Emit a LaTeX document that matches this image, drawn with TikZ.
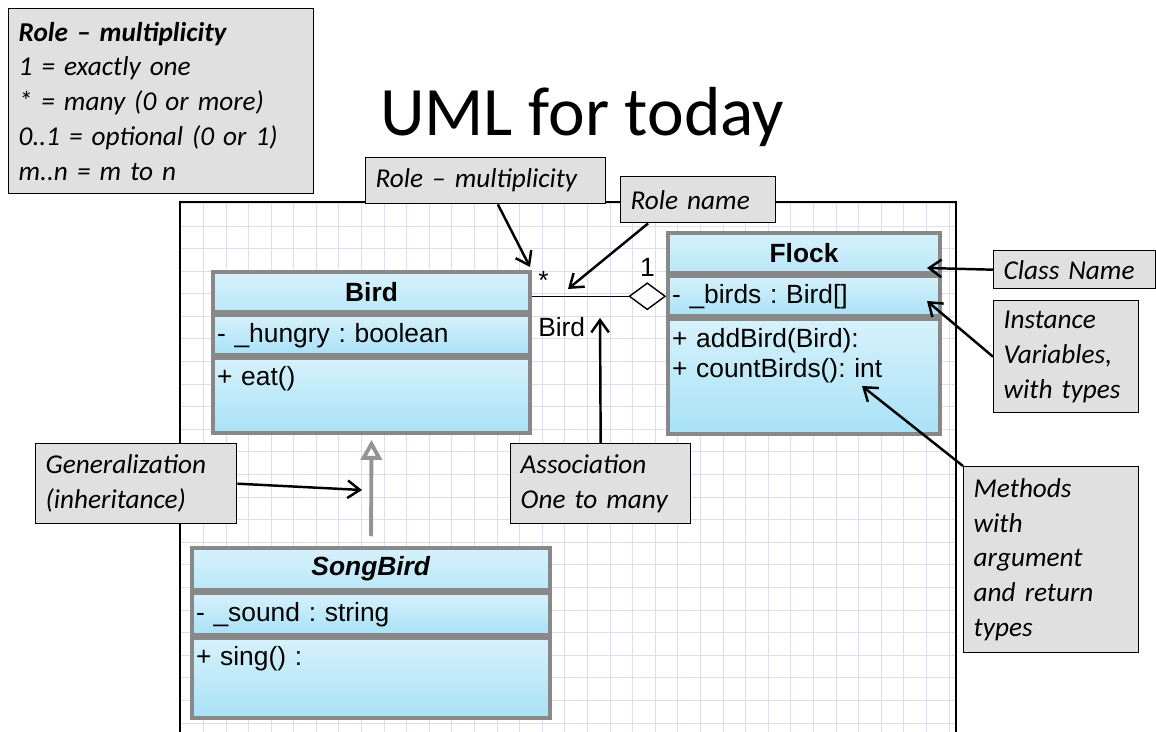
\documentclass[tikz,border=0pt]{standalone}
\usepackage{fontspec}
\setmainfont{Carlito}
\newfontfamily\umlfont{Liberation Sans}
\usetikzlibrary{arrows.meta, positioning, calc}
\definecolor{classtop}{HTML}{D6F1FB}
\definecolor{classbot}{HTML}{A8E1F6}
\definecolor{classline}{HTML}{888888}
\definecolor{gridblue}{HTML}{DCDCF4}
\definecolor{notegray}{HTML}{E0E0E0}
\tikzset{
	classhead/.style = {draw=classline, line width=2pt, top color=classtop, bottom color=classbot!60!classtop, font=\umlfont\fontsize{15}{17}\selectfont\bfseries, align=center, inner sep=0pt},
	classpart/.style = {draw=classline, line width=2pt, top color=classtop, bottom color=classbot, font=\umlfont\fontsize{15}{17}\selectfont\frenchspacing, align=left, inner xsep=0.08cm, inner ysep=0.15cm},
	note/.style = {draw, line width=0.8pt, fill=notegray, font=\fontsize{15.5}{19.8}\selectfont\itshape, align=left, inner xsep=0.2cm, anchor=north west},
	arrow/.style = {-{Straight Barb[length=7pt,width=10pt]}, line width=1.4pt},
	assoc/.style = {-{Diamond[fill=white, length=0.76cm, width=0.56cm]}, line width=0.8pt},
	inherit/.style = {-{Triangle[fill=white, length=0.4cm, width=0.42cm]}, draw=classline!90, line width=2.2pt, shorten <=0.2cm, shorten >=0.1cm},
	umltext/.style = {font=\umlfont\fontsize{15}{17}\selectfont},
}

\begin{document}
\begin{tikzpicture}[x=0.02cm, y=-0.02cm]
	\useasboundingbox (0,0) rectangle (1156,732);
	
	% Drawing canvas with grid
	\fill[white] (180,202) rectangle (956,732);
	\draw[gridblue, step=0.452cm, line width=0.5pt] (180,202) grid (956,732);
	\draw[line width=1pt] (180,732) |- (956,202) -- (956,732);
	
	% Title
	\node[font=\fontsize{39.5}{47}\selectfont] (title) at (582,117) {UML for today};
	
	% Bird class
	\node[classhead, text width=6.34cm, minimum height=0.8cm] (birdhead) at (371.5,292) {Bird};
	\node[classpart, text width=6.18cm, minimum height=0.73cm, below=0pt of birdhead] (birdattr) {- \_hungry : boolean};
	\node[classpart, text width=6.18cm, minimum height=1.49cm, text depth=0.8cm, below=0pt of birdattr] (birdmeth) {+ eat()};
	
	% Flock class
	\node[classhead, text width=5.44cm, minimum height=0.8cm] (flockhead) at (804,253) {Flock};
	\node[classpart, text width=5.28cm, minimum height=0.77cm, below=0pt of flockhead] (flockattr) {- \_birds : Bird[]};
	\node[classpart, text width=5.28cm, minimum height=2.29cm, text depth=1.55cm, below=0pt of flockattr] (flockmeth) {+ addBird(Bird):\\+ countBirds(): int};
	
	% SongBird class
	\node[classhead, text width=7.16cm, minimum height=0.84cm] (songhead) at (371,569) {\textit{SongBird}};
	\node[classpart, text width=7.0cm, minimum height=0.83cm, below=0pt of songhead] (songattr) {- \_sound : string};
	\node[classpart, text width=7.0cm, minimum height=1.59cm, text depth=0.9cm, below=0pt of songattr] (songmeth) {+ sing() :};
	
	% Relations
	\draw[assoc] (birdhead.east |- flockattr.west) -- (flockattr.west)
		node[pos=0, above right=0cm and 0cm, umltext] (many) {*}
		node[pos=0, below right=0.3cm and 0cm, umltext] (role) {Bird}
		node[pos=1, above left=0.26cm and 0.1cm, umltext] (one) {1};
	\draw[inherit] (songhead.north) -- (birdmeth.south);
	
	% Notes
	\node[note, text width=5.7cm, minimum height=3.7cm] (legend) at (8,8) {\textbf{Role -- multiplicity}\\1 = exactly one\\{*} = many (0 or more)\\0..1 = optional (0 or 1)\\m..n = m to n};
	\node[note, text width=4.4cm, minimum height=0.92cm] (rolemult) at (365,157) {Role -- multiplicity};
	\node[note, text width=2.7cm, minimum height=0.92cm] (rolename) at (620,176) {Role name};
	\node[note, text width=2.84cm, minimum height=0.76cm] (classname) at (993,250) {Class Name};
	\node[note, text width=2.5cm, minimum height=2.24cm] (instvars) at (993,300) {Instance\\Variables,\\with types};
	\node[note, text width=3.1cm, minimum height=3.72cm] (methodsnote) at (963,466) {Methods\\with\\argument\\and return\\types};
	\node[note, text width=3.62cm, minimum height=1.6cm] (gennote) at (35,443) {Generalization\\(inheritance)};
	\node[note, text width=3.2cm, minimum height=1.6cm] (assocnote) at (510,443) {Association\\One to many};
	
	% Pointer targets
	\coordinate (multpt) at (530,267);
	\coordinate (namept) at (568,289);
	\coordinate (flocknamept) at (927,268);
	\coordinate (flockattrpt) at (927,301);
	\coordinate (flockmethpt) at (862,386);
	\coordinate (genpt) at (362,490);
	\coordinate (assocpt) at (600,318);
	
	% Pointers
	\draw[arrow] (rolemult) -- (multpt);
	\draw[arrow] ($(rolename.south west)!0.18!(rolename.south east)$) -- (namept);
	\draw[arrow] (classname.west) -- (flocknamept);
	\draw[arrow] (instvars.west) -- (flockattrpt);
	\draw[arrow] (methodsnote.north west) -- (flockmethpt);
	\draw[arrow] (gennote.east) -- (genpt);
	\draw[arrow] (assocnote.north) -- (assocpt);
	
\end{tikzpicture}
\end{document}
